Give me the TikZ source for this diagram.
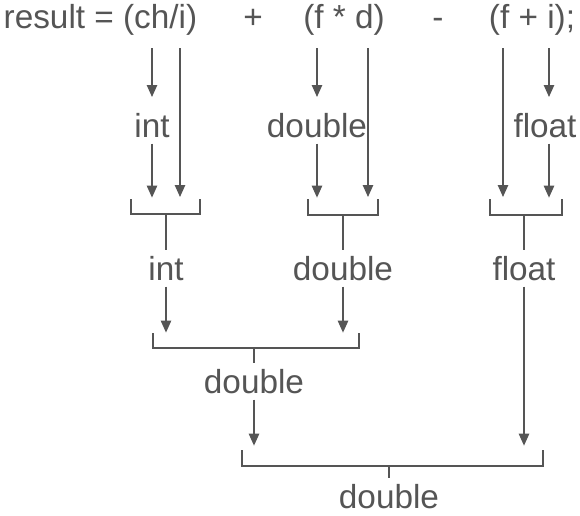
\documentclass[tikz,border=0pt]{standalone}
\usepackage{fontspec}
\setmainfont{Liberation Sans}
\usetikzlibrary{arrows.meta}
\definecolor{cinza}{HTML}{555555}

\begin{document}
\begin{tikzpicture}[
    x=0.025cm, y=-0.025cm,
    line width=1pt,
    font=\fontsize{23.7}{28}\selectfont,
    color=cinza, text=cinza,
    termo/.style={anchor=base, inner sep=0pt},
    tipo/.style={anchor=base, inner sep=4pt},
    seta/.style={-{Triangle[length=3mm, width=2.6mm]}},
    chave/.style={line width=0.9pt}
]
    \useasboundingbox (0,0) rectangle (580,515);

    % expressao
    \node[termo, anchor=base west] (expr) at (3,28) {result = (ch/i)};
    \node[termo] (mais) at (253,28) {+};
    \node[termo] (fd) at (344,28) {(f * d)};
    \node[termo] (menos) at (438,28) {-};
    \node[termo] (fi) at (532,28) {(f + i);};

    \coordinate (ch) at (152,48);
    \coordinate (i1) at (180,48);
    \coordinate (f1) at (317,48);
    \coordinate (d)  at (368,48);
    \coordinate (f2) at (503,48);
    \coordinate (i2) at (549,48);

    % primeiro nivel
    \node[tipo] (int1) at (152,137) {int};
    \node[tipo] (dbl1) at (317,137) {double};
    \node[tipo] (flt1) at (545,137) {float};

    \draw[seta] (ch) -- ++(0,49);
    \draw[seta] (f1) -- ++(0,49);
    \draw[seta] (i2) -- ++(0,49);
    \draw[seta] (i1) -- ++(0,149);
    \draw[seta] (d) -- ++(0,149);
    \draw[seta] (f2) -- ++(0,149);
    \draw[seta] (int1.south) -- ++(0,54);
    \draw[seta] (dbl1.south) -- ++(0,54);
    \draw[seta] (i2 |- flt1.south) -- ++(0,54);

    \draw[chave] (131,199) -- (131,214) -- (200,214) -- (200,199);
    \draw[chave] (308,199) -- (308,215) -- (378,215) -- (378,199);
    \draw[chave] (490,199) -- (490,215) -- (562,215) -- (562,199);
    \coordinate (k1) at (166,214);
    \coordinate (k2) at (343,215);
    \coordinate (k3) at (524,215);

    % segundo nivel
    \node[tipo] (int2) at (166,280) {int};
    \node[tipo] (dbl2) at (343,280) {double};
    \node[tipo] (flt2) at (524,280) {float};

    \draw[chave] (k1) -- (int2);
    \draw[chave] (k2) -- (dbl2);
    \draw[chave] (k3) -- (flt2);
    \draw[seta] (int2.south) -- ++(0,46);
    \draw[seta] (dbl2.south) -- ++(0,46);
    \draw[seta] (flt2.south) -- ++(0,159);

    \draw[chave] (153,333) -- (153,348) -- (359,348) -- (359,333);
    \coordinate (k4) at (254,348);

    % terceiro nivel
    \node[tipo] (dbl3) at (254,393) {double};
    \draw[chave] (k4) -- (dbl3);
    \draw[seta] (dbl3.south) -- ++(0,46);

    \draw[chave] (242,450) -- (242,466) -- (543,466) -- (543,450);
    \coordinate (k5) at (389,466);

    % resultado
    \node[tipo] (dbl4) at (389,508) {double};
    \draw[chave] (k5) -- (dbl4);
\end{tikzpicture}
\end{document}
